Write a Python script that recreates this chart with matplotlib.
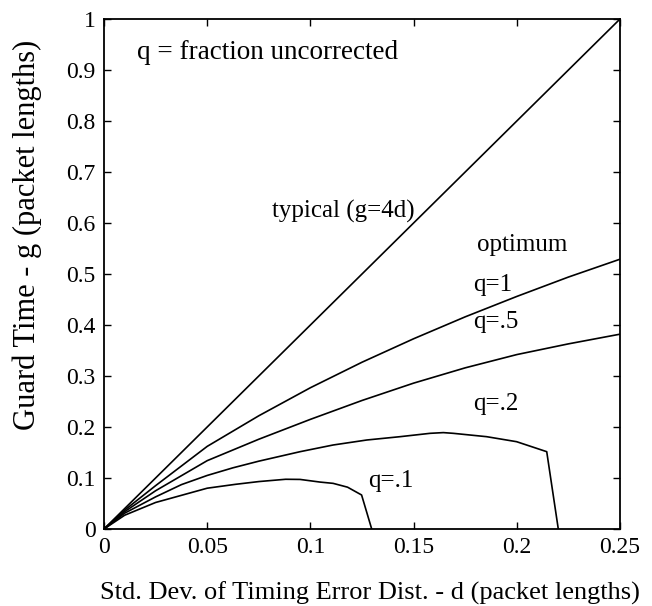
import matplotlib
matplotlib.use("Agg")
import matplotlib.pyplot as plt

plt.rcParams['font.family'] = ['Liberation Serif', 'DejaVu Serif']

# typical: g = 4d
typ_d = [0.0, 0.25]
typ_g = [0.0, 1.0]

q1_d = [0.0, 0.01, 0.025, 0.05, 0.075, 0.1, 0.125, 0.15, 0.175, 0.2, 0.225, 0.25]
q1_g = [0.0, 0.037, 0.085, 0.162, 0.222, 0.277, 0.327, 0.373, 0.416, 0.456, 0.494, 0.529]

q05_d = [0.0, 0.01, 0.025, 0.05, 0.075, 0.1, 0.125, 0.15, 0.175, 0.2, 0.225, 0.25]
q05_g = [0.0, 0.034, 0.075, 0.134, 0.176, 0.215, 0.252, 0.286, 0.316, 0.342, 0.363, 0.382]

q02_d = [0.0, 0.01, 0.025, 0.0375, 0.05, 0.0625, 0.075, 0.095, 0.111, 0.1273, 0.1434, 0.158, 0.1644,
         0.1692, 0.1854, 0.1999, 0.2145, 0.2201]
q02_g = [0.0, 0.031, 0.063, 0.087, 0.105, 0.12, 0.133, 0.1516, 0.1647, 0.1745, 0.181, 0.1876, 0.189,
         0.1876, 0.181, 0.1712, 0.1516, 0.0]

q01_d = [0.0, 0.01, 0.025, 0.05, 0.0637, 0.075, 0.088, 0.095, 0.1047, 0.111, 0.118, 0.1248, 0.1297]
q01_g = [0.0, 0.027, 0.052, 0.080, 0.0876, 0.093, 0.0975, 0.0972, 0.092, 0.0895, 0.082, 0.0667, 0.0]

x_ticks = [0, 0.05, 0.1, 0.15, 0.2, 0.25]
x_ticklabels = ["0", "0.05", "0.1", "0.15", "0.2", "0.25"]
y_ticks = [0, 0.1, 0.2, 0.3, 0.4, 0.5, 0.6, 0.7, 0.8, 0.9, 1.0]
y_ticklabels = ["0", "0.1", "0.2", "0.3", "0.4", "0.5", "0.6", "0.7", "0.8", "0.9", "1"]

fig = plt.figure(figsize=(6.52, 6.06), dpi=100)
ax = fig.add_axes([104/652, 1-529/606, (620-104)/652, (529-19)/606])

lw = 1.2
for d, g in [(typ_d, typ_g), (q1_d, q1_g), (q05_d, q05_g), (q02_d, q02_g), (q01_d, q01_g)]:
    ax.plot(d, g, color='black', lw=lw)

ax.set_xlim(0, 0.25)
ax.set_ylim(0, 1)
ax.set_xticks(x_ticks)
ax.set_xticklabels(x_ticklabels)
ax.set_yticks(y_ticks)
ax.set_yticklabels(y_ticklabels)
ax.tick_params(direction='in', length=5, width=1, top=True, right=True,
               labelsize=17, pad=6)
for s in ax.spines.values():
    s.set_linewidth(1.3)

fs = 18
ax.text(0.016, 0.935, "q = fraction uncorrected", fontsize=19.5, va='center', ha='left')
ax.text(0.0814, 0.622, "typical (g=4d)", fontsize=fs, va='center', ha='left')
ax.text(0.1807, 0.557, "optimum", fontsize=fs, va='center', ha='left')
ax.text(0.179, 0.478, "q=1", fontsize=fs, va='center', ha='left')
ax.text(0.179, 0.406, "q=.5", fontsize=fs, va='center', ha='left')
ax.text(0.179, 0.245, "q=.2", fontsize=fs, va='center', ha='left')
ax.text(0.128, 0.094, "q=.1", fontsize=fs, va='center', ha='left')

fig.text(370/652, 1-593/606, "Std. Dev. of Timing Error Dist. - d (packet lengths)",
         fontsize=19, ha='center', va='center')
fig.text(27/652, 1-235/606, "Guard Time - g (packet lengths)",
         fontsize=22, ha='center', va='center', rotation=90)

fig.savefig("out.png", dpi=100)
